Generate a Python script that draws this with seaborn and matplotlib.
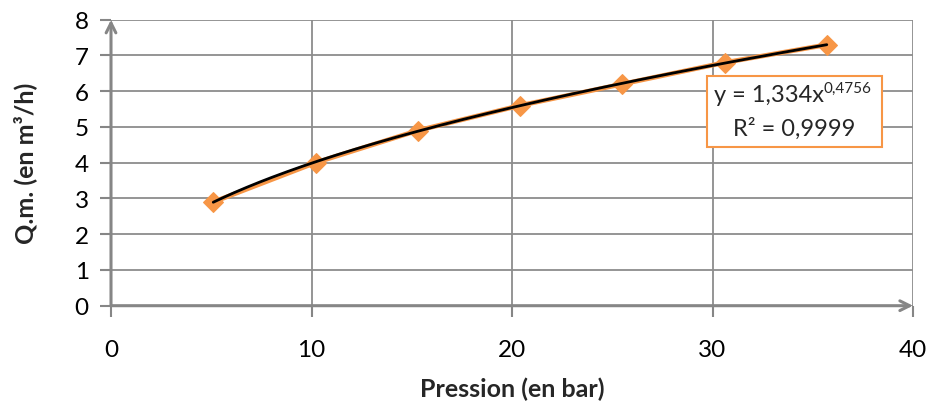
import numpy as np
import pandas as pd
import matplotlib
matplotlib.use("Agg")
import matplotlib.pyplot as plt
import seaborn as sns
from matplotlib.patches import Rectangle

# ---- data ----
pression = [5.1, 10.2, 15.3, 20.4, 25.5, 30.6, 35.7]
debit = [2.9, 4.0, 4.9, 5.6, 6.2, 6.8, 7.3]
x_ticks = [0, 10, 20, 30, 40]
y_ticks = [0, 1, 2, 3, 4, 5, 6, 7, 8]
eq_base = "y = 1,334x"
eq_exp = "0,4756"
r2_text = "R² = 0,9999"
x_label = "Pression (en bar)"
y_label = "Q.m. (en m³/h)"

sns.set_style("white")
plt.rcParams['font.family'] = ['Lato', 'DejaVu Sans']

ORANGE = "#F79646"
GRID = "#8C8C8C"
AXIS = "#868686"

df = pd.DataFrame({"P": pression, "Q": debit})

# power trendline fitted in log space
b, loga = np.polyfit(np.log(df["P"]), np.log(df["Q"]), 1)
xs = np.linspace(df["P"].min(), df["P"].max(), 200)
trend = pd.DataFrame({"P": xs, "Q": np.exp(loga) * xs ** b})

fig = plt.figure(figsize=(9.3, 4.14), dpi=100)
ax = fig.add_axes([111 / 930, 1 - 306.7 / 414, (913 - 111) / 930, (306.7 - 20.7) / 414])

sns.lineplot(data=df, x="P", y="Q", ax=ax, color=ORANGE, lw=3.4,
             marker="D", markersize=10.5, markeredgecolor=ORANGE, zorder=3)
sns.lineplot(data=trend, x="P", y="Q", ax=ax, color="black", lw=2.0, zorder=4)

ax.set_xlim(0, 40)
ax.set_ylim(0, 8)
ax.set_xticks(x_ticks)
ax.set_yticks(y_ticks)
ax.grid(True, color=GRID, lw=1.3)
ax.set_axisbelow(True)
for s in ax.spines.values():
    s.set_visible(False)
ax.tick_params(axis="both", which="major", direction="out", length=8, width=1.5,
               color=AXIS, labelsize=17.5, labelcolor="black")
ax.tick_params(axis="y", pad=8)
ax.tick_params(axis="x", pad=16)
ax.tick_params(bottom=True, left=True)

# axis lines with open arrowheads
arrow = dict(arrowstyle="->,head_length=0.7,head_width=0.35", color=AXIS, lw=2.2,
             shrinkA=0, shrinkB=0)
ax.annotate("", xy=(0, 1), xytext=(0, 0), xycoords="axes fraction", arrowprops=arrow,
            annotation_clip=False, zorder=5)
ax.annotate("", xy=(1, 0), xytext=(0, 0), xycoords="axes fraction", arrowprops=arrow,
            annotation_clip=False, zorder=5)

ax.set_xlabel(x_label, fontsize=18, fontweight="bold", va="center")
ax.set_ylabel(y_label, fontsize=18, fontweight="bold", va="center")
ax.xaxis.set_label_coords(0.5, (306.7 - 389) / 286)
ax.yaxis.set_label_coords((25 - 111) / 802, 0.5)

# trendline label box
ax.add_patch(Rectangle((29.73, 4.44), 8.72, 1.99, facecolor="white", edgecolor=ORANGE,
                       lw=1.5, zorder=6))
t = ax.text(35.55, 5.92, eq_base, ha="right", va="center", fontsize=17, zorder=7)
ax.annotate(eq_exp, xy=(1.0, 0.6), xycoords=t, ha="left", va="baseline",
            fontsize=11, zorder=7)
ax.text(34.05, 4.97, r2_text, ha="center", va="center", fontsize=17, zorder=7)

fig.savefig("out.png", dpi=100)
